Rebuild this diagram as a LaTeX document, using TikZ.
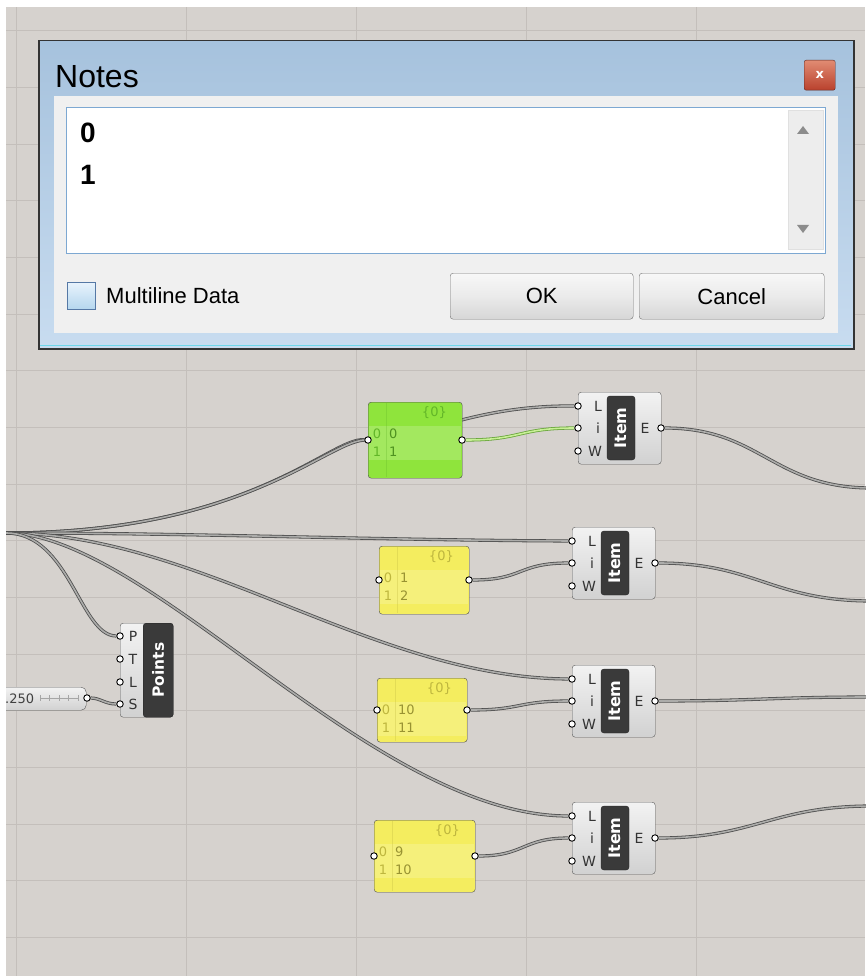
\documentclass[tikz,border=0pt]{standalone}
\usepackage{fontspec}
\setmainfont{Liberation Sans}
\newfontfamily\ghfont{DejaVu Sans}
\pgfdeclarelayer{bgl}\pgfdeclarelayer{wirel}
\pgfsetlayers{bgl,wirel,main}
\definecolor{canvas}{RGB}{214,210,206}
\definecolor{gridc}{RGB}{196,191,187}
\definecolor{wireout}{RGB}{78,78,78}
\definecolor{wirein}{RGB}{172,172,170}
\definecolor{gwout}{RGB}{105,165,60}
\definecolor{gwin}{RGB}{200,240,150}
\definecolor{darkbox}{RGB}{58,58,58}
\definecolor{panelg}{RGB}{143,228,60}
\definecolor{panely}{RGB}{244,237,95}
\definecolor{ptg}{RGB}{98,182,40}
\definecolor{pty}{RGB}{190,182,62}
\definecolor{frametop}{RGB}{166,194,221}
\definecolor{framebot}{RGB}{200,220,240}
\definecolor{clientc}{RGB}{240,240,240}
\definecolor{tbborder}{RGB}{125,168,210}
\definecolor{cyanln}{RGB}{110,215,235}
\newcommand\ghitem[3]{%
  \node[itembody] (#1) at (#2,#3) {};
  \node[dbox, minimum height=64pt] (#1-d) at (#2+43,#3+36) {};
  \node[rotate=90, boldw] (#1-t) at (#2+43,#3+36) {Item};
  \node[lbl] (#1-lL) at (#2+20,#3+14) {L};
  \node[lbl] (#1-li) at (#2+20,#3+36) {i};
  \node[lbl] (#1-lW) at (#2+17,#3+59) {W};
  \node[lbl] (#1-lE) at (#2+67,#3+36) {E};
  \node[port] (#1-L) at (#2,#3+14) {};
  \node[port] (#1-i) at (#2,#3+36) {};
  \node[port] (#1-W) at (#2,#3+59) {};
  \node[port] (#1-E) at (#2+83,#3+36) {};
}
\newcommand\ghpanel[9]{%
  \node[panelbody, fill=#6, minimum width=#4pt, minimum height=#5pt] (#1) at (#2,#3) {};
  \fill[white, opacity=0.18] (#2+1,#3+24) rectangle (#2+#4-1,#3+58);
  \draw[#7, opacity=0.3] (#2+18,#3+1) -- (#2+18,#3+#5-1);
  \node[ptext, text=#7, anchor=east] (#1-h) at (#2+#4-15,#3+11) {\{0\}};
  \node[ptext, text=#7] (#1-i0) at (#2+9,#3+32) {0};
  \node[ptext, text=#7] (#1-i1) at (#2+9,#3+50) {1};
  \node[ptext, text=#7!80!black, anchor=west] (#1-v0) at (#2+21,#3+32) {#8};
  \node[ptext, text=#7!80!black, anchor=west] (#1-v1) at (#2+21,#3+50) {#9};
  \node[port] (#1-in) at (#2,#3+#5/2) {};
  \node[port] (#1-out) at (#2+#4,#3+#5/2) {};
}
\begin{document}
\begin{tikzpicture}[x=1pt,y=-1pt,
  wire/.style={draw=wireout, line width=0.8pt, double=wirein, double distance=1.6pt},
  gwire/.style={draw=gwout, line width=0.8pt, double=gwin, double distance=1.6pt},
  port/.style={circle, draw=black, fill=white, line width=0.9pt, minimum size=6.5pt, inner sep=0pt},
  itembody/.style={draw=black!65, rounded corners=3pt, top color=white!95!black, bottom color=white!82!black, minimum width=83pt, minimum height=72pt, anchor=north west, inner sep=0pt},
  dbox/.style={fill=darkbox, draw=black!85, rounded corners=3pt, minimum width=28pt, inner sep=0pt},
  lbl/.style={font=\ghfont\fontsize{14}{14}\selectfont, text=black!80, inner sep=0pt},
  boldw/.style={font=\ghfont\bfseries\fontsize{16}{16}\selectfont, text=white, inner sep=0pt},
  panelbody/.style={draw=black!70, rounded corners=3pt, anchor=north west, inner sep=0pt},
  ptext/.style={font=\ghfont\fontsize{13}{13}\selectfont, inner sep=0pt},
  dlgtext/.style={inner sep=0pt, text=black},
  btn/.style={draw=black!55, rounded corners=3pt, top color=white!97!black, bottom color=white!84!black, middle color=white!92!black, anchor=north west, inner sep=0pt}
]
\useasboundingbox (0,0) rectangle (865,976);
\begin{pgfonlayer}{bgl}
  \fill[canvas] (0,0) rectangle (865,976);
  \foreach \x in {16,186,356,526,696,866} \draw[gridc, line width=1pt] (\x,0) -- (\x,976);
  \foreach \k in {0,...,16} \draw[gridc, line width=1pt] (0,31+56.65*\k) -- (865,31+56.65*\k);
\end{pgfonlayer}

% ---------- components ----------
\coordinate (src) at (6,533);
\ghpanel{gp}{368}{402}{94}{76}{panelg}{ptg}{0}{1}
\ghpanel{yp1}{379}{546}{90}{68}{panely}{pty}{1}{2}
\ghpanel{yp2}{377}{678}{90}{64}{panely}{pty}{10}{11}
\ghpanel{yp3}{374}{820}{101}{72}{panely}{pty}{9}{10}
\ghitem{it1}{578}{392}
\ghitem{it2}{572}{527}
\ghitem{it3}{572}{665}
\ghitem{it4}{572}{802}

% Points component
\node[itembody, minimum width=53pt, minimum height=94pt] (pts) at (120,623) {};
\node[dbox, minimum width=30pt, minimum height=94pt, anchor=north west] (pts-d) at (143,623) {};
\node[rotate=90, boldw, font=\ghfont\bfseries\fontsize{15.5}{15.5}\selectfont] (pts-t) at (158,670) {Points};
\node[lbl] (pts-lP) at (133,636) {P};
\node[lbl] (pts-lT) at (133,659) {T};
\node[lbl] (pts-lL) at (133,682) {L};
\node[lbl] (pts-lS) at (133,704) {S};
\node[port] (pts-P) at (120,636) {};
\node[port] (pts-T) at (120,659) {};
\node[port] (pts-L) at (120,682) {};
\node[port] (pts-S) at (120,704) {};

% slider
\node[itembody, minimum width=95pt, minimum height=23pt, rounded corners=5pt] (sl) at (-9,687) {};
\node[ptext, text=black!75, anchor=west] (sl-v) at (5,699) {.250};
\draw[black!35, line width=0.6pt] (40,698) -- (78,698);
\foreach \t in {40,49.5,59,68.5,78} \draw[black!35, line width=0.6pt] (\t,695) -- (\t,701);
\node[port] (sl-out) at (87,698) {};

% exits
\coordinate (o1) at (872,488);
\coordinate (o2) at (872,601);
\coordinate (o3) at (872,697);
\coordinate (o4) at (872,806);

% ---------- wires ----------
\begin{pgfonlayer}{wirel}
  \draw[wire] (src) .. controls (250,533) and (330,437) .. (gp-in);
  \draw[wire] (src) .. controls (250,533) and (330,437) .. (gp-in.center) .. controls (420,440) and (470,405) .. (it1-L);
  \draw[wire] (src) .. controls (200,533) and (370,540) .. (it2-L);
  \draw[wire] (src) .. controls (200,533) and (372,678) .. (it3-L);
  \draw[wire] (src) .. controls (150,533) and (372,816) .. (it4-L);
  \draw[wire] (src) .. controls (70,533) and (80,636) .. (pts-P);
  \draw[wire] (sl-out) .. controls (100,698) and (105,704) .. (pts-S);
  \draw[gwire] (gp-out) .. controls +(60,0) and +(-60,0) .. (it1-i);
  \draw[wire] (yp1-out) .. controls +(55,0) and +(-55,0) .. (it2-i);
  \draw[wire] (yp2-out) .. controls +(55,0) and +(-55,0) .. (it3-i);
  \draw[wire] (yp3-out) .. controls +(50,0) and +(-50,0) .. (it4-i);
  \draw[wire] (it1-E) .. controls +(100,0) and +(-100,0) .. (o1);
  \draw[wire] (it2-E) .. controls +(100,0) and +(-100,0) .. (o2);
  \draw[wire] (it3-E) .. controls +(100,0) and +(-100,0) .. (o3);
  \draw[wire] (it4-E) .. controls +(100,0) and +(-100,0) .. (o4);
\end{pgfonlayer}

% ---------- dialog ----------
\node[draw=black!80, line width=1.5pt, top color=frametop, bottom color=framebot, minimum width=815pt, minimum height=308pt, anchor=north west, inner sep=0pt] (dlg) at (38,40) {};
\draw[cyanln, line width=1.2pt] (40,345.5) -- (851,345.5);
\node[fill=clientc, minimum width=784pt, minimum height=237pt, anchor=north west, inner sep=0pt] (client) at (54,96) {};
\node[fill=white, draw=tbborder, line width=1pt, minimum width=759pt, minimum height=146pt, anchor=north west, inner sep=0pt] (tbox) at (66,107) {};
\node[fill=white!93!black, draw=white!88!black, minimum width=35pt, minimum height=139pt, anchor=north west, inner sep=0pt] (sbar) at (788,110) {};
\fill[black!45] (797,134) -- (809,134) -- (803,126) -- cycle;
\fill[black!45] (797,225) -- (809,225) -- (803,233) -- cycle;
\node[dlgtext, anchor=base west, font=\fontsize{32}{32}\selectfont] (title) at (55,88) {Notes};
\node[draw={rgb,255:red,95;green,40;blue,35}, rounded corners=2pt, top color={rgb,255:red,225;green,140;blue,115}, bottom color={rgb,255:red,185;green,65;blue,45}, minimum width=31pt, minimum height=30pt, anchor=north west, inner sep=0pt, text=white, font=\ghfont\bfseries\fontsize{13}{13}\selectfont] (close) at (804,60) {x};
\node[dlgtext, anchor=base west, font=\bfseries\fontsize{28}{28}\selectfont] (l0) at (80,143) {0};
\node[dlgtext, anchor=base west, font=\bfseries\fontsize{28}{28}\selectfont] (l1) at (80,185) {1};
\node[draw={rgb,255:red,85;green,120;blue,165}, line width=1pt, top color={rgb,255:red,232;green,243;blue,252}, bottom color={rgb,255:red,180;green,214;blue,238}, minimum width=28pt, minimum height=27pt, anchor=north west, inner sep=0pt] (chk) at (67,282) {};
\node[dlgtext, anchor=base west, font=\fontsize{22}{22}\selectfont] (mtext) at (106,303) {Multiline Data};
\node[btn, minimum width=183pt, minimum height=46pt] (ok) at (450,273) {};
\node[dlgtext, font=\fontsize{22}{22}\selectfont] at (ok.center) {OK};
\node[btn, minimum width=185pt, minimum height=46pt] (cancel) at (639,273) {};
\node[dlgtext, font=\fontsize{22}{22}\selectfont] at (cancel.center) {Cancel};

% margins
\fill[white] (0,0) rectangle (6,976);
\fill[white] (0,0) rectangle (865,7);
\end{tikzpicture}
\end{document}
